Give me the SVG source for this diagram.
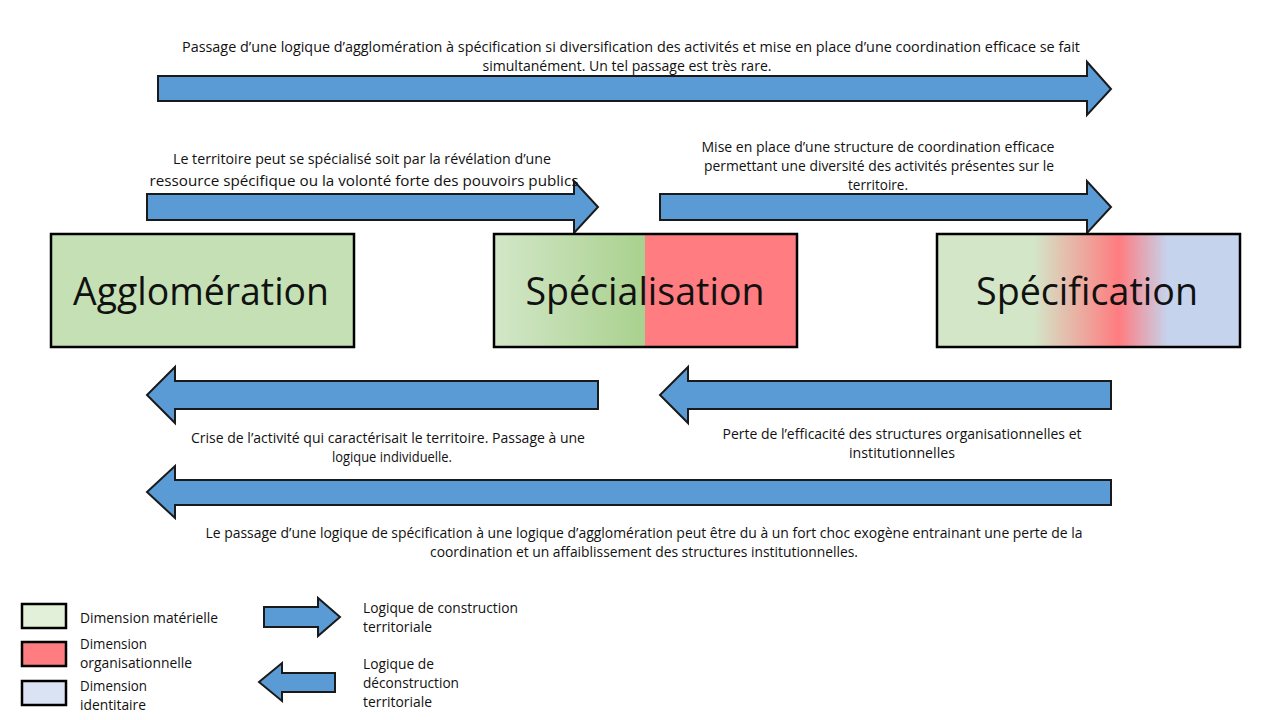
<svg xmlns="http://www.w3.org/2000/svg" width="1280" height="720" viewBox="0 0 1280 720">
<defs>
<style>
.arr{fill:#5B9BD5;stroke:#1a1a1a;stroke-width:2;stroke-linejoin:miter}
.box{stroke:#000;stroke-width:2.5}
.t{font-family:"Open Sans","Liberation Sans",sans-serif;font-size:14px;fill:#111}
.lab{font-family:"Open Sans","Liberation Sans",sans-serif;font-size:38px;fill:#111;text-anchor:middle}
.lg{font-family:"Open Sans","Liberation Sans",sans-serif;font-size:14px;fill:#111}
.c{text-anchor:middle}
</style>
<linearGradient id="gSpecial" x1="0" y1="0" x2="1" y2="0">
<stop offset="0" stop-color="#D3E7C8"/>
<stop offset="0.5" stop-color="#A9D18E"/>
<stop offset="0.5" stop-color="#FF7C80"/>
<stop offset="1" stop-color="#FF7C80"/>
</linearGradient>
<linearGradient id="gSpecif" x1="0" y1="0" x2="1" y2="0">
<stop offset="0" stop-color="#D3E6C8"/>
<stop offset="0.32" stop-color="#D3E6C8"/>
<stop offset="0.6" stop-color="#FF7C80"/>
<stop offset="0.76" stop-color="#C5D3EC"/>
<stop offset="1" stop-color="#C5D3EC"/>
</linearGradient>
</defs>

<g id="connectors">
<path id="a-top" class="arr" d="M158,76 H1087 V62 L1111,89 L1087,115 V101 H158 Z"/>
<path id="a-agg-spe" class="arr" d="M147,194 H574 V181 L598,207 L574,233 V220 H147 Z"/>
<path id="a-spe-spf" class="arr" d="M660,194 H1087 V181 L1111,207 L1087,233 V220 H660 Z"/>
<path id="a-spe-agg" class="arr" d="M598,381 H175 V367 L147,395 L175,423 V409 H598 Z"/>
<path id="a-spf-spe" class="arr" d="M1111,381 H688 V367 L660,395 L688,423 V409 H1111 Z"/>
<path id="a-spf-agg" class="arr" d="M1111,480 H175 V466 L147,492 L175,518 V505 H1111 Z"/>
</g>

<g id="labels">
<text class="t c" x="631" y="52" textLength="898" lengthAdjust="spacingAndGlyphs">Passage d’une logique d’agglomération à spécification si diversification des activités et mise en place d’une coordination efficace se fait</text>
<text class="t c" x="627" y="71" textLength="289" lengthAdjust="spacingAndGlyphs">simultanément. Un tel passage est très rare.</text>
<text class="t c" x="362" y="164" textLength="378" lengthAdjust="spacingAndGlyphs">Le territoire peut se spécialisé soit par la révélation d’une</text>
<text class="t c" x="364" y="186" textLength="429" lengthAdjust="spacingAndGlyphs">ressource spécifique ou la volonté forte des pouvoirs publics</text>
<text class="t c" x="878" y="152" textLength="353" lengthAdjust="spacingAndGlyphs">Mise en place d’une structure de coordination efficace</text>
<text class="t c" x="879" y="171" textLength="350" lengthAdjust="spacingAndGlyphs">permettant une diversité des activités présentes sur le</text>
<text class="t c" x="878" y="190" textLength="60" lengthAdjust="spacingAndGlyphs">territoire.</text>
<text class="t c" x="388" y="443" textLength="394" lengthAdjust="spacingAndGlyphs">Crise de l’activité qui caractérisait le territoire. Passage à une</text>
<text class="t c" x="392" y="462" textLength="120" lengthAdjust="spacingAndGlyphs">logique individuelle.</text>
<text class="t c" x="902" y="439" textLength="359" lengthAdjust="spacingAndGlyphs">Perte de l’efficacité des structures organisationnelles et</text>
<text class="t c" x="902" y="458" textLength="106" lengthAdjust="spacingAndGlyphs">institutionnelles</text>
<text class="t c" x="644" y="538" textLength="877" lengthAdjust="spacingAndGlyphs">Le passage d’une logique de spécification à une logique d’agglomération peut être du à un fort choc exogène entrainant une perte de la</text>
<text class="t c" x="644" y="557" textLength="428" lengthAdjust="spacingAndGlyphs">coordination et un affaiblissement des structures institutionnelles.</text>
</g>

<g id="node-agglomeration">
<rect class="box" x="51" y="234" width="303" height="113" fill="#C5E0B4"/>
<text class="lab" x="201" y="305" textLength="256" lengthAdjust="spacingAndGlyphs">Agglomération</text>
</g>
<g id="node-specialisation">
<rect class="box" x="494" y="234" width="303" height="113" fill="url(#gSpecial)"/>
<text class="lab" x="645" y="305" textLength="239" lengthAdjust="spacingAndGlyphs">Spécialisation</text>
</g>
<g id="node-specification">
<rect class="box" x="937" y="234" width="303" height="113" fill="url(#gSpecif)"/>
<text class="lab" x="1087" y="305" textLength="222" lengthAdjust="spacingAndGlyphs">Spécification</text>
</g>

<g id="legend">
<rect class="box" x="22" y="604" width="44" height="24" fill="#E2EFD9" stroke-width="2"/>
<rect class="box" x="22" y="642" width="44" height="24" fill="#FF7C80" stroke-width="2"/>
<rect class="box" x="22" y="681" width="44" height="24" fill="#DAE3F3" stroke-width="2"/>
<text class="lg" x="80" y="623" textLength="138" lengthAdjust="spacingAndGlyphs">Dimension matérielle</text>
<text class="lg" x="80" y="649" textLength="67" lengthAdjust="spacingAndGlyphs">Dimension</text>
<text class="lg" x="80" y="668" textLength="112" lengthAdjust="spacingAndGlyphs">organisationnelle</text>
<text class="lg" x="80" y="691" textLength="67" lengthAdjust="spacingAndGlyphs">Dimension</text>
<text class="lg" x="80" y="710" textLength="66" lengthAdjust="spacingAndGlyphs">identitaire</text>
<path class="arr" d="M264,607 H318 V598 L340,617 L318,636 V627 H264 Z"/>
<path class="arr" d="M335,673 H282 V663 L259,682 L282,701 V692 H335 Z"/>
<text class="lg" x="363" y="613" textLength="155" lengthAdjust="spacingAndGlyphs">Logique de construction</text>
<text class="lg" x="363" y="632" textLength="69" lengthAdjust="spacingAndGlyphs">territoriale</text>
<text class="lg" x="363" y="669" textLength="71" lengthAdjust="spacingAndGlyphs">Logique de</text>
<text class="lg" x="363" y="688" textLength="96" lengthAdjust="spacingAndGlyphs">déconstruction</text>
<text class="lg" x="363" y="707" textLength="69" lengthAdjust="spacingAndGlyphs">territoriale</text>
</g>
</svg>
